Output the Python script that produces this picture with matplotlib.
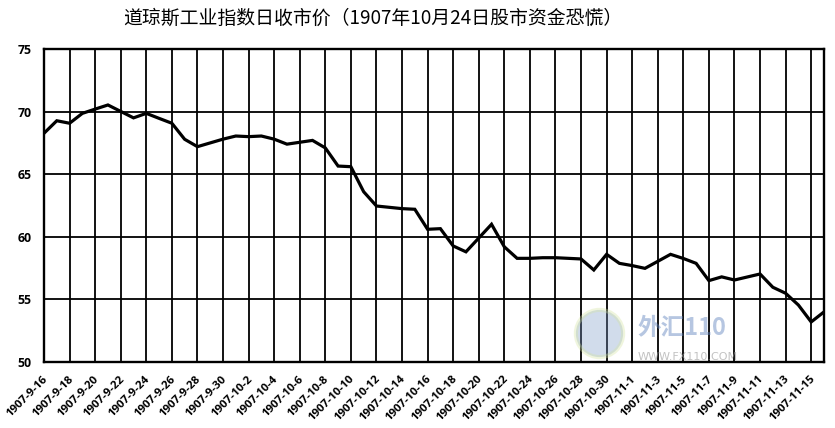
import matplotlib
matplotlib.use('Agg')
import matplotlib.pyplot as plt
import matplotlib.transforms as mtransforms
import pandas as pd

plt.rcParams['font.family'] = ['Noto Sans CJK SC', 'DejaVu Sans']

title = '道琼斯工业指数日收市价（1907年10月24日股市资金恐慌）'

# trading days (no Sunday sessions), Dow close
dates = ['1907-09-16', '1907-09-17', '1907-09-18', '1907-09-19', '1907-09-20', '1907-09-21',
         '1907-09-23', '1907-09-24', '1907-09-25', '1907-09-26', '1907-09-27', '1907-09-28',
         '1907-09-30', '1907-10-01', '1907-10-02', '1907-10-03', '1907-10-04', '1907-10-05',
         '1907-10-07', '1907-10-08', '1907-10-09', '1907-10-10', '1907-10-11', '1907-10-12',
         '1907-10-14', '1907-10-15', '1907-10-16', '1907-10-17', '1907-10-18', '1907-10-19',
         '1907-10-21', '1907-10-22', '1907-10-23', '1907-10-24', '1907-10-25', '1907-10-26',
         '1907-10-28', '1907-10-29', '1907-10-30', '1907-10-31', '1907-11-01', '1907-11-02',
         '1907-11-04', '1907-11-05', '1907-11-06', '1907-11-07', '1907-11-08', '1907-11-09',
         '1907-11-11', '1907-11-12', '1907-11-13', '1907-11-14', '1907-11-15', '1907-11-16']
close = [68.27, 69.27, 69.07, 69.86, 70.20, 70.53,
         69.50, 69.86, 69.46, 69.07, 67.79, 67.20,
         67.80, 68.05, 68.00, 68.05, 67.80, 67.40,
         67.70, 67.10, 65.65, 65.60, 63.60, 62.46,
         62.25, 62.20, 60.60, 60.65, 59.27, 58.80,
         61.00, 59.20, 58.28, 58.28, 58.33, 58.33,
         58.23, 57.35, 58.60, 57.88, 57.70, 57.48,
         58.60, 58.27, 57.88, 56.50, 56.80, 56.55,
         57.03, 55.97, 55.49, 54.55, 53.20, 54.00]

tick_dates = pd.date_range('1907-09-16', '1907-11-15', freq='2D')
tick_labels = ['%d-%d-%d' % (d.year, d.month, d.day) for d in tick_dates]
y_ticks = [50, 55, 60, 65, 70, 75]

x = pd.to_datetime(dates)

fig = plt.figure(figsize=(8.35, 4.28), dpi=100)
ax = fig.add_axes([0.0527, 0.1542, 0.9341, 0.7313])

ax.plot(x, close, c='k', lw=2.3, solid_joinstyle='miter', zorder=3)

ax.set_xlim(pd.Timestamp('1907-09-16'), pd.Timestamp('1907-11-16'))
ax.set_ylim(50, 75)
ax.set_yticks(y_ticks)
ax.set_xticks(tick_dates)
ax.set_xticklabels([])
# rotated date labels, drawn by hand so they can be nudged
lab_trans = mtransforms.offset_copy(ax.get_xaxis_transform(), fig=fig, x=1.5, y=-11, units='points')
for d, s in zip(tick_dates, tick_labels):
    ax.text(d, 0, s, transform=lab_trans, rotation=45, ha='right', va='center',
            rotation_mode='anchor', family='Open Sans', fontweight='bold', fontsize=8.2,
            clip_on=False)
for lab in ax.get_yticklabels():
    lab.set_family('Open Sans')
    lab.set_fontweight('bold')
    lab.set_fontsize(8.8)
ax.tick_params(axis='both', length=0)
ax.tick_params(axis='y', pad=9)

ax.grid(which='major', c='k', lw=1.3)
ax.set_axisbelow(True)
for sp in ('left', 'bottom', 'right', 'top'):
    ax.spines[sp].set_linewidth(1.7)

fig.text(0.447, 0.958, title, ha='center', va='center', fontsize=13.6)

# faint site watermark
fig.add_artist(plt.Line2D([0.717], [0.222], transform=fig.transFigure, marker='o', ms=34,
                          mfc='#7d9bc8', mec='#d3e3a0', mew=3, alpha=0.35, zorder=5))
fig.text(0.763, 0.233, '外汇110', fontsize=17, fontweight='bold', style='italic',
         color='#5d82bd', alpha=0.45, va='center', ha='left')
fig.text(0.764, 0.166, 'WWW.FX110.COM', fontsize=8, color='#9a9a9a', alpha=0.6,
         va='center', ha='left', family='DejaVu Sans')

fig.savefig('out.png', dpi=100, facecolor='w')
